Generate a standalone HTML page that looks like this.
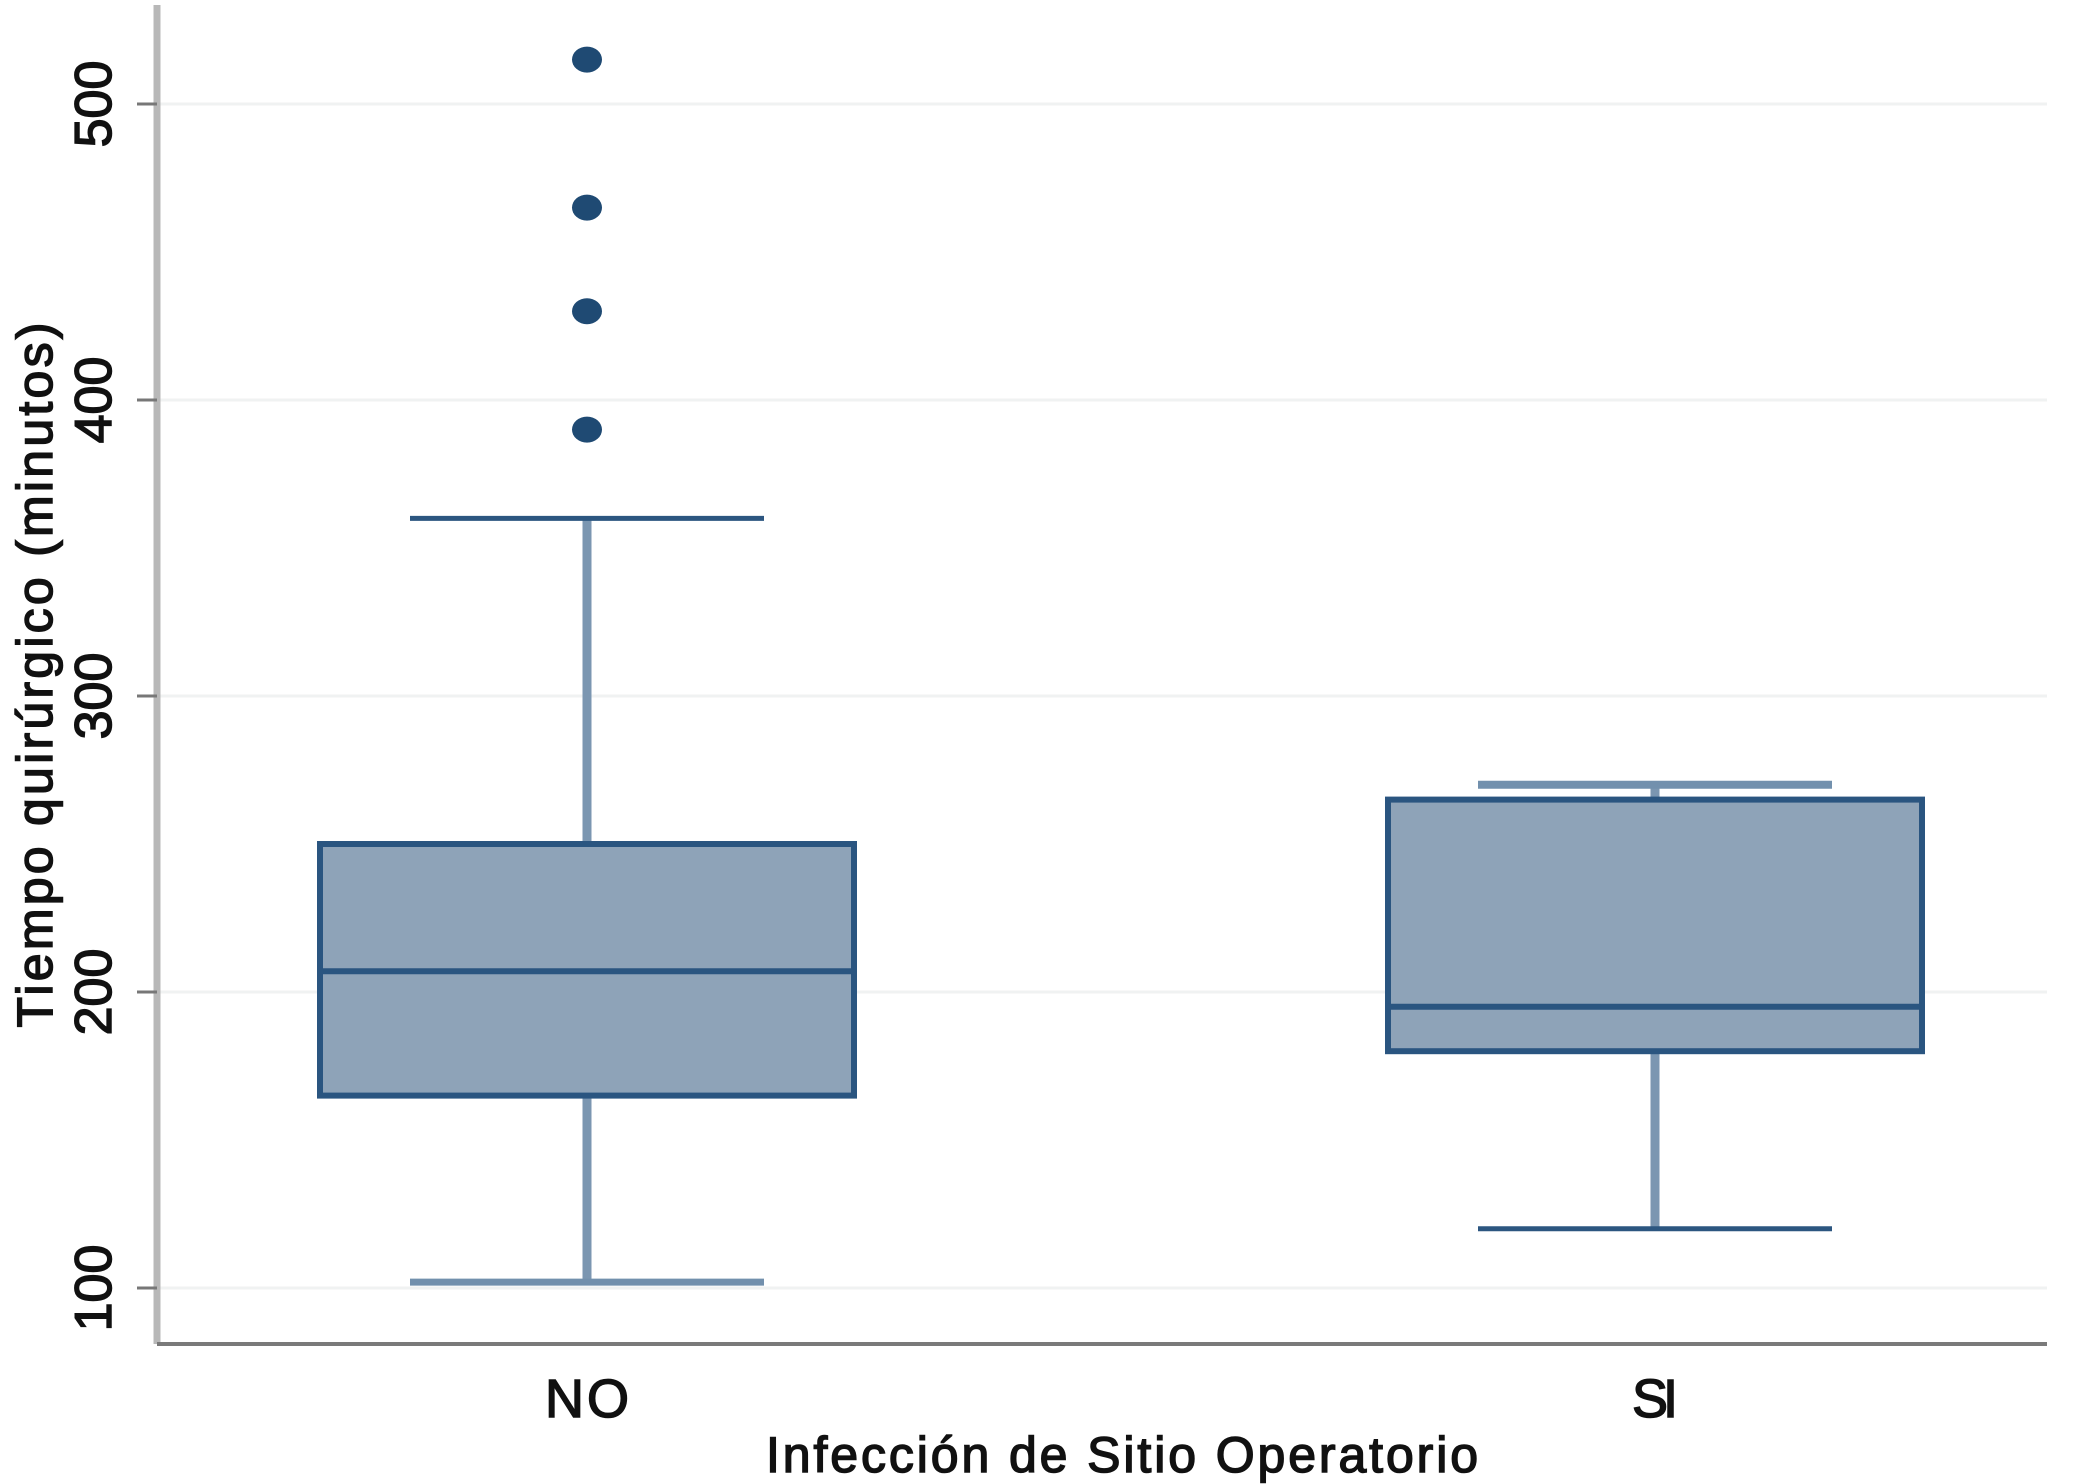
<!DOCTYPE html>
<html><head><meta charset="utf-8"><style>
html,body{margin:0;padding:0;background:#fff;}
svg{display:block;font-family:"Liberation Sans",sans-serif;}
</style></head><body>
<svg id="chart" width="2091" height="1484" viewBox="0 0 2091 1484">
<g id="grid"></g>
<g id="boxes"></g>
<g id="axes"></g>
</svg>
<script>
const categories = ["NO", "SI"];
const lowWhisker = [102, 120];
const q1Values = [165, 180];
const medians = [207, 195];
const q3Values = [250, 265];
const highWhisker = [360, 270];
const outliersNO = [515, 465, 430, 390];
const outliersSI = [];
const yTicks = [100, 200, 300, 400, 500];

const NS = "http://www.w3.org/2000/svg";
const x0 = 157, x1 = 2047, yBase = 1344;
function yScale(v){ return 1288 - (v - 100) * 2.96; }
const centers = [587, 1655];
function xScale(i){ return centers[i]; }
const boxHalf = 267, capHalf = 177;
function mk(tag, attrs, parent){ const e = document.createElementNS(NS, tag); for (const k in attrs) e.setAttribute(k, attrs[k]); parent.appendChild(e); return e; }
const grid = document.getElementById('grid'), boxes = document.getElementById('boxes'), axes = document.getElementById('axes');

yTicks.forEach(t => {
  const g = mk('line', {x1: x0, x2: x1, y1: yScale(t), y2: yScale(t), stroke: '#f0f2f2', 'stroke-width': 3}, grid);
  
  
});

const outs = [outliersNO, outliersSI];
categories.forEach((c, i) => {
  const cx = xScale(i);
  const stem1 = mk('line', {x1: cx, x2: cx, y1: yScale(q3Values[i]), y2: yScale(highWhisker[i]), stroke: '#7b96b1', 'stroke-width': 9}, boxes);
  
  
  const stem2 = mk('line', {x1: cx, x2: cx, y1: yScale(q1Values[i]), y2: yScale(lowWhisker[i]), stroke: '#7b96b1', 'stroke-width': 9}, boxes);
  
  
  const capH = mk('line', {x1: cx - capHalf, x2: cx + capHalf, y1: yScale(highWhisker[i]), y2: yScale(highWhisker[i]), stroke: i ? '#7290ad' : '#2c5680', 'stroke-width': i ? 8 : 5}, boxes);
  
  
  const capL = mk('line', {x1: cx - capHalf, x2: cx + capHalf, y1: yScale(lowWhisker[i]), y2: yScale(lowWhisker[i]), stroke: i ? '#2c5680' : '#7290ad', 'stroke-width': i ? 5 : 7}, boxes);
  
  
  const b = mk('rect', {x: cx - boxHalf, y: yScale(q3Values[i]), width: boxHalf * 2, height: yScale(q1Values[i]) - yScale(q3Values[i]), fill: '#8ea3b8', stroke: '#2a5580', 'stroke-width': 6}, boxes);
  
  
  const m = mk('line', {x1: cx - boxHalf, x2: cx + boxHalf, y1: yScale(medians[i]), y2: yScale(medians[i]), stroke: '#2a5580', 'stroke-width': 6}, boxes);
  
  
  outs[i].forEach(v => {
    const o = mk('ellipse', {cx: cx, cy: yScale(v), rx: 15, ry: 13, fill: '#1f4a73'}, boxes);
    
    
  });
  const lab = mk('text', {x: cx, y: 1417, 'text-anchor': 'middle', 'font-size': 54, fill: '#111', stroke: '#111', 'stroke-width': 1.5, textLength: i ? 46 : 84}, axes);
  lab.textContent = c;
  
  
});

const ya = mk('line', {x1: x0, x2: x0, y1: 5, y2: yBase, stroke: '#b8b8b8', 'stroke-width': 7}, axes);


const xa = mk('line', {x1: x0, x2: x1, y1: yBase, y2: yBase, stroke: '#7a7a7a', 'stroke-width': 4}, axes);


yTicks.forEach(t => {
  const tk = mk('line', {x1: 137, x2: x0, y1: yScale(t), y2: yScale(t), stroke: '#777', 'stroke-width': 3}, axes);
  
  
  const tl = mk('text', {x: 0, y: 0, transform: 'translate(111,' + yScale(t) + ') rotate(-90)', 'text-anchor': 'middle', 'font-size': 52, fill: '#111', stroke: '#111', 'stroke-width': 1.5}, axes);
  tl.textContent = t;
  
  
});
const yt = mk('text', {x: 0, y: 0, transform: 'translate(52,675) rotate(-90)', 'text-anchor': 'middle', 'font-size': 50, fill: '#111', stroke: '#111', 'stroke-width': 1.5, textLength: 705}, axes);
yt.textContent = 'Tiempo quirúrgico (minutos)';


const xt = mk('text', {x: 1122, y: 1472, 'text-anchor': 'middle', 'font-size': 50, fill: '#111', stroke: '#111', 'stroke-width': 1.5, textLength: 712}, axes);
xt.textContent = 'Infección de Sitio Operatorio';


</script>
</body></html>
